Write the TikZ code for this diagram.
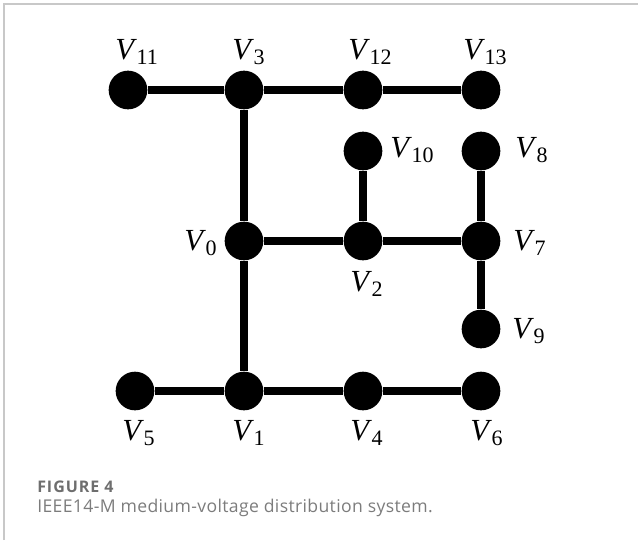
\documentclass[tikz,border=0pt]{standalone}
\usepackage{fontspec}
\newfontfamily\lblfont{Liberation Serif}
\newfontfamily\capfont[LetterSpace=2]{Open Sans}
\newfontfamily\figfont[LetterSpace=6]{Open Sans}
\definecolor{framegray}{HTML}{C8C8C8}
\definecolor{figgray}{HTML}{6E6E6E}
\definecolor{capgray}{HTML}{7C7C7C}
\newcommand\vl[1]{{\lblfont\fontsize{23}{26}\selectfont\itshape V}\kern2pt\raisebox{-4pt}{\lblfont\fontsize{16.5}{18}\selectfont #1}}
\begin{document}
\begin{tikzpicture}[x=0.75pt,y=-0.75pt,
  bus/.style={circle,fill=black,minimum size=29pt,inner sep=0pt},
  ln/.style={line width=6pt},
  lab/.style={anchor=base west,inner sep=0pt}]
\useasboundingbox (0,0) rectangle (638,540);
\draw[framegray,line width=1.1pt] (4,540) -- (4,4) -- (638,4);
% buses
\node[bus] (v11) at (128,90) {};
\node[bus] (v3) at (244,90) {};
\node[bus] (v12) at (363,90) {};
\node[bus] (v13) at (481,90) {};
\node[bus] (v10) at (363,151) {};
\node[bus] (v8) at (481,151) {};
\node[bus] (v0) at (244,241) {};
\node[bus] (v2) at (363,241) {};
\node[bus] (v7) at (481,241) {};
\node[bus] (v9) at (481,329) {};
\node[bus] (v5) at (135,391) {};
\node[bus] (v1) at (244,391) {};
\node[bus] (v4) at (363,391) {};
\node[bus] (v6) at (481,391) {};
% lines
\draw[ln] (v11) -- (v3);
\draw[ln] (v3) -- (v12);
\draw[ln] (v12) -- (v13);
\draw[ln] (v3) -- (v0);
\draw[ln] (v10) -- (v2);
\draw[ln] (v8) -- (v7);
\draw[ln] (v0) -- (v2);
\draw[ln] (v2) -- (v7);
\draw[ln] (v7) -- (v9);
\draw[ln] (v0) -- (v1);
\draw[ln] (v5) -- (v1);
\draw[ln] (v1) -- (v4);
\draw[ln] (v4) -- (v6);
% labels
\node[lab] (l11) at (115,59) {\vl{11}};
\node[lab] (l3) at (232,59) {\vl{3}};
\node[lab] (l12) at (348,59) {\vl{12}};
\node[lab] (l13) at (463,59) {\vl{13}};
\node[lab] (l10) at (390,157) {\vl{10}};
\node[lab] (l8) at (515,157) {\vl{8}};
\node[lab] (l0) at (184,250) {\vl{0}};
\node[lab] (l7) at (513,250) {\vl{7}};
\node[lab] (l2) at (350,291) {\vl{2}};
\node[lab] (l9) at (512,338) {\vl{9}};
\node[lab] (l5) at (122,440) {\vl{5}};
\node[lab] (l1) at (232,440) {\vl{1}};
\node[lab] (l4) at (350,440) {\vl{4}};
\node[lab] (l6) at (470,440) {\vl{6}};
% caption
\node[anchor=base west,inner sep=0pt,text=figgray] (fig) at (37,492)
  {\figfont\bfseries\fontsize{12}{14}\selectfont FIGURE 4};
\node[anchor=base west,inner sep=0pt,text=capgray] (cap) at (37,512)
  {\capfont\fontsize{13.2}{15}\selectfont IEEE14-M medium-voltage distribution system.};
\end{tikzpicture}
\end{document}
